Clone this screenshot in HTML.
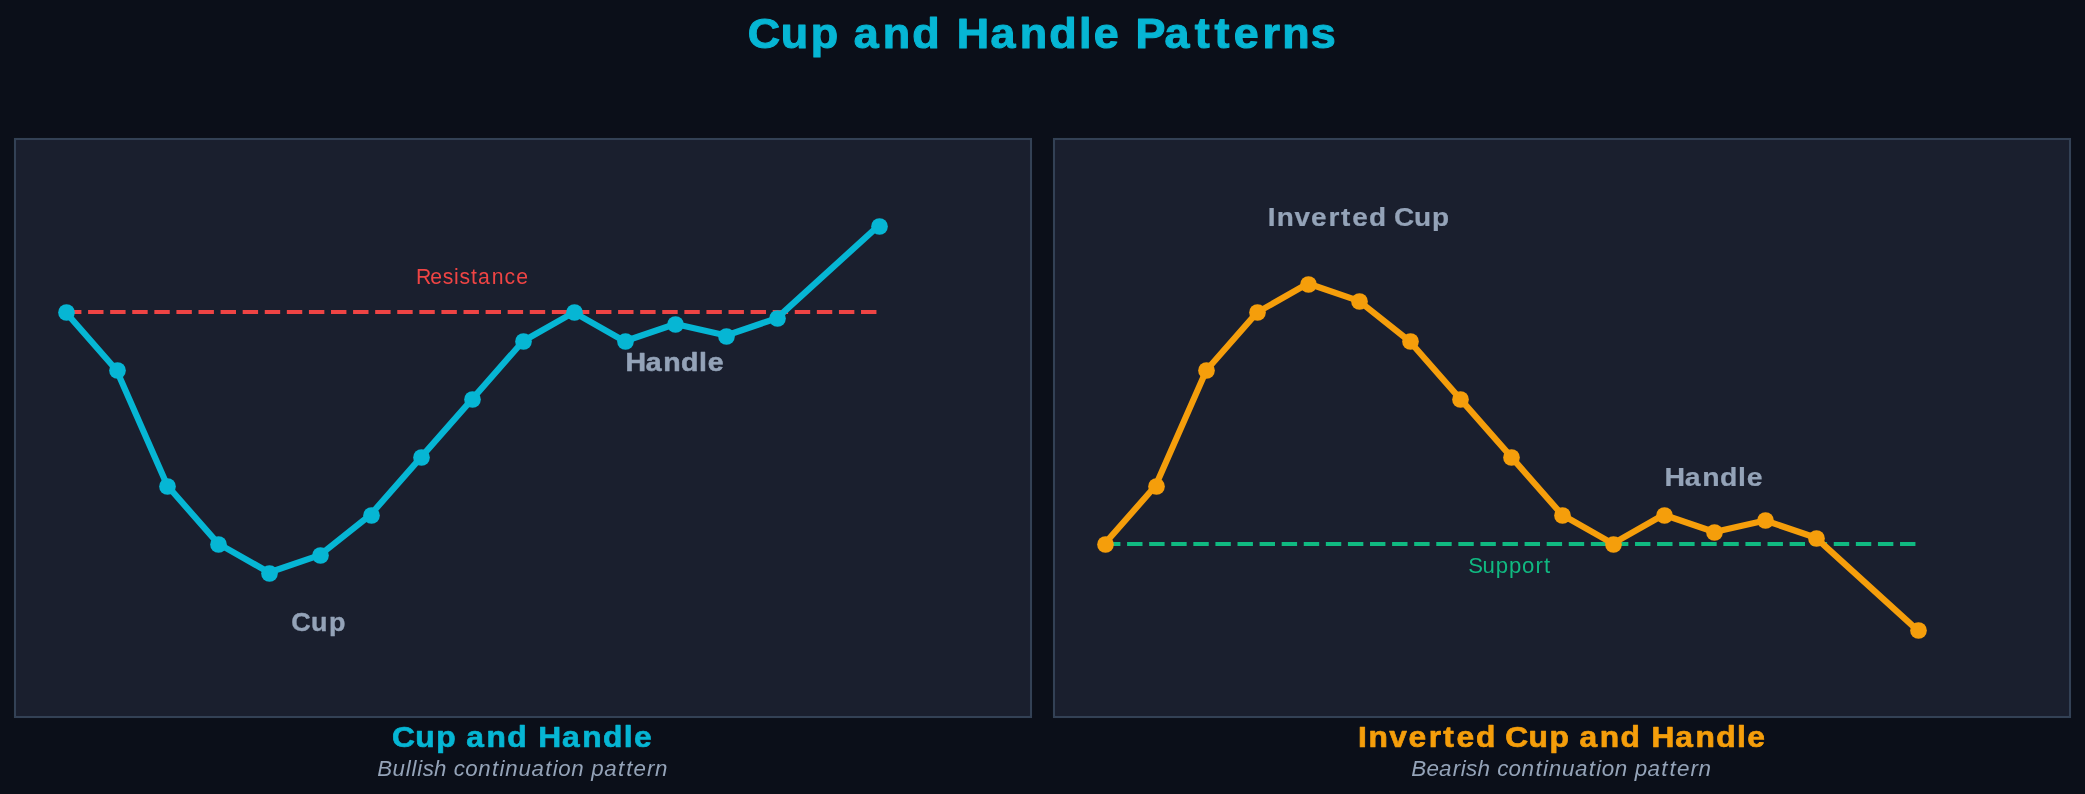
<!DOCTYPE html>
<html><head><meta charset="utf-8"><title>Cup and Handle Patterns</title>
<style>
html,body{margin:0;padding:0;background:#0b0f19;width:2085px;height:794px;overflow:hidden}
svg{display:block}
text{font-family:"Liberation Sans",sans-serif;white-space:pre}
.t{will-change:transform}
</style></head><body>
<svg width="2085" height="794" viewBox="0 0 2085 794">
<rect width="2085" height="794" fill="#0b0f19"/>
<rect x="15" y="139" width="1016" height="578" fill="#1a1f2e" stroke="#334155" stroke-width="2.0833"/>
<rect x="1054" y="139" width="1016" height="578" fill="#1a1f2e" stroke="#334155" stroke-width="2.0833"/>
<g class="plot">
<line x1="66" y1="312" x2="879" y2="312" stroke="#ef4444" stroke-width="4.1667" stroke-dasharray="15.417 6.667"/>
<polyline points="65.80,312.40 116.60,370.20 167.40,485.80 218.20,543.60 269.00,572.50 319.80,555.16 370.60,514.70 421.40,456.90 472.20,399.10 523.00,341.30 573.80,312.40 624.60,341.30 675.40,323.96 726.20,335.52 777.00,318.18 878.60,225.70" fill="none" stroke="#06b6d4" stroke-width="6.2500" stroke-linejoin="round" stroke-linecap="square"/>
<g fill="#06b6d4"><circle cx="66.5" cy="312.5" r="8.333"/><circle cx="117.5" cy="370.5" r="8.333"/><circle cx="167.5" cy="486.5" r="8.333"/><circle cx="218.5" cy="544.5" r="8.333"/><circle cx="269.5" cy="573.5" r="8.333"/><circle cx="320.5" cy="555.5" r="8.333"/><circle cx="371.5" cy="515.5" r="8.333"/><circle cx="421.5" cy="457.5" r="8.333"/><circle cx="472.5" cy="399.5" r="8.333"/><circle cx="523.5" cy="341.5" r="8.333"/><circle cx="574.5" cy="312.5" r="8.333"/><circle cx="625.5" cy="341.5" r="8.333"/><circle cx="675.5" cy="324.5" r="8.333"/><circle cx="726.5" cy="336.5" r="8.333"/><circle cx="777.5" cy="318.5" r="8.333"/><circle cx="879.5" cy="226.5" r="8.333"/></g>
<line x1="1105" y1="544" x2="1918" y2="544" stroke="#10b981" stroke-width="4.1667" stroke-dasharray="15.417 6.667"/>
<polyline points="1104.80,543.60 1155.60,485.80 1206.40,370.20 1257.20,312.40 1308.00,283.50 1358.80,300.84 1409.60,341.30 1460.40,399.10 1511.20,456.90 1562.00,514.70 1612.80,543.60 1663.60,514.70 1714.40,532.04 1765.20,520.48 1816.00,537.82 1917.60,630.30" fill="none" stroke="#f59e0b" stroke-width="6.2500" stroke-linejoin="round" stroke-linecap="square"/>
<g fill="#f59e0b"><circle cx="1105.5" cy="544.5" r="8.333"/><circle cx="1156.5" cy="486.5" r="8.333"/><circle cx="1206.5" cy="370.5" r="8.333"/><circle cx="1257.5" cy="312.5" r="8.333"/><circle cx="1308.5" cy="284.5" r="8.333"/><circle cx="1359.5" cy="301.5" r="8.333"/><circle cx="1410.5" cy="341.5" r="8.333"/><circle cx="1460.5" cy="399.5" r="8.333"/><circle cx="1511.5" cy="457.5" r="8.333"/><circle cx="1562.5" cy="515.5" r="8.333"/><circle cx="1613.5" cy="544.5" r="8.333"/><circle cx="1664.5" cy="515.5" r="8.333"/><circle cx="1714.5" cy="532.5" r="8.333"/><circle cx="1765.5" cy="520.5" r="8.333"/><circle cx="1816.5" cy="538.5" r="8.333"/><circle cx="1918.5" cy="630.5" r="8.333"/></g>
</g>
<g class="t"><text x="712.01 743.59 772.16 798.25 812.98 840.80 868.82 894.91 911.28 943.31 971.13 999.15 1027.50 1041.57 1065.32 1081.49 1108.91 1137.79 1156.74 1174.88 1202.40 1221.06 1248.32" y="47.75" font-size="42.709" fill="#06b6d4" transform="scale(1.05004 1)" stroke="#06b6d4" stroke-width="1.057" stroke-linejoin="round" font-weight="bold">Cup and Handle Patterns</text></g>
<g class="t"><text x="420.93 435.36 448.07 459.36 464.95 476.78 483.68 497.67 510.49 522.48" y="283.72" font-size="21.458" fill="#ef4444" transform="scale(0.98812 1)">Resistance</text></g>
<g class="t"><text x="545.84 563.56 578.86 594.30 610.12 617.67" y="370.67" font-size="24.875" fill="#94a3b8" transform="scale(1.14575 1)" stroke="#94a3b8" stroke-width="0.516" stroke-linejoin="round" font-weight="bold">Handle</text></g>
<g class="t"><text x="275.71 294.56 311.63" y="630.62" font-size="25.500" fill="#94a3b8" transform="scale(1.05610 1)" stroke="#94a3b8" stroke-width="0.365" stroke-linejoin="round" font-weight="bold">Cup</text></g>
<g class="t"><text x="1201.80 1210.25 1227.13 1242.75 1259.26 1271.11 1281.84 1297.63 1313.81 1321.36 1340.30 1357.37" y="225.67" font-size="26.500" fill="#94a3b8" transform="scale(1.05493 1)" stroke="#94a3b8" stroke-width="0.247" stroke-linejoin="round" font-weight="bold">Inverted Cup</text></g>
<g class="t"><text x="1469.54 1487.46 1502.94 1518.56 1534.56 1542.19" y="485.52" font-size="25.125" fill="#94a3b8" transform="scale(1.13261 1)" stroke="#94a3b8" stroke-width="0.228" stroke-linejoin="round" font-weight="bold">Handle</text></g>
<g class="t"><text x="1401.01 1414.67 1427.47 1440.11 1452.41 1465.34 1473.49" y="572.72" font-size="21.145" fill="#10b981" transform="scale(1.04792 1)">Support</text></g>
<g class="t"><text x="352.40 373.28 392.15 409.61 419.13 437.50 456.01 473.47 484.04 505.21 523.59 542.10 560.89 570.13" y="746.65" font-size="28.584" fill="#06b6d4" transform="scale(1.11225 1)" stroke="#06b6d4" stroke-width="0.635" stroke-linejoin="round" font-weight="bold">Cup and Handle</text></g>
<g class="t"><text x="376.79 391.98 405.22 411.01 416.81 422.25 433.55 445.94 453.25 464.63 477.61 491.52 498.92 504.79 517.91 530.90 544.70 552.10 557.75 570.73 583.13 590.73 603.48 617.29 625.46 632.82 646.30 654.34" y="775.75" font-size="22.291" fill="#94a3b8" transform="scale(1.00111 1)" font-style="italic">Bullish continuation pattern</text></g>
<g class="t"><text x="1253.95 1263.68 1282.81 1300.54 1319.22 1332.63 1344.89 1362.82 1380.73 1389.82 1411.26 1430.64 1448.54 1458.34 1477.21 1496.22 1514.13 1525.00 1546.75 1565.62 1584.63 1603.92 1613.41" y="746.70" font-size="29.313" fill="#f59e0b" transform="scale(1.08301 1)" stroke="#f59e0b" stroke-width="0.697" stroke-linejoin="round" font-weight="bold">Inverted Cup and Handle</text></g>
<g class="t"><text x="1368.07 1382.80 1395.05 1408.30 1416.03 1421.30 1432.26 1444.37 1451.39 1462.43 1475.02 1488.54 1495.73 1501.40 1514.13 1526.74 1540.15 1547.34 1552.80 1565.40 1577.50 1584.81 1597.18 1610.59 1618.53 1625.65 1638.75 1646.54" y="775.75" font-size="21.770" fill="#94a3b8" transform="scale(1.03154 1)" font-style="italic">Bearish continuation pattern</text></g>
</svg>
</body></html>
